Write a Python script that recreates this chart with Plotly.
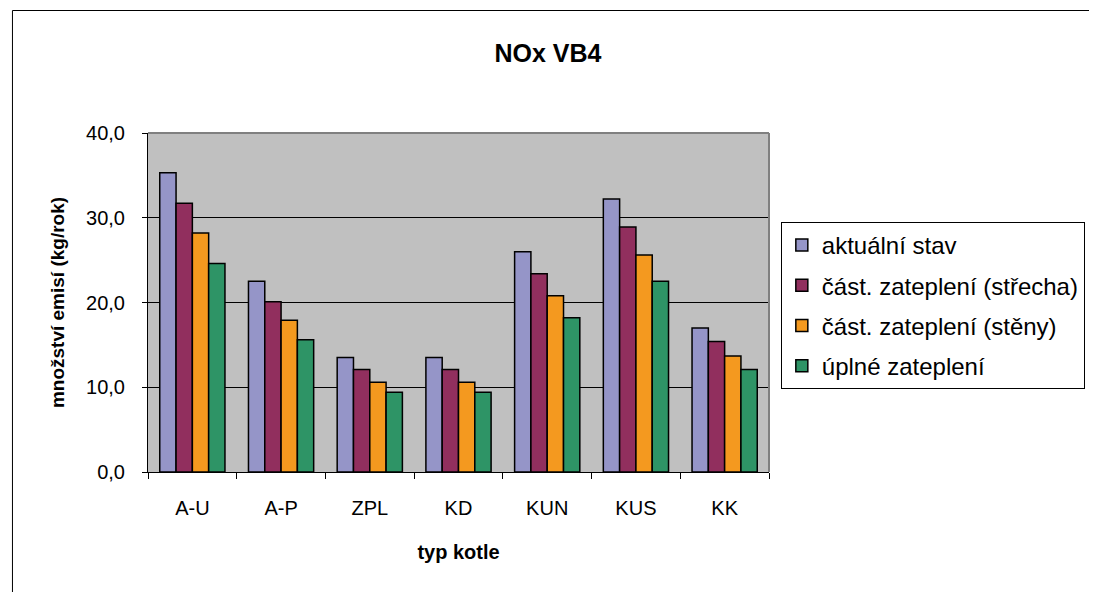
import plotly.graph_objects as go

categories = ["A-U", "A-P", "ZPL", "KD", "KUN", "KUS", "KK"]
series_names = ["aktuální stav", "část. zateplení (střecha)", "část. zateplení (stěny)", "úplné zateplení"]
aktualni = [35.3, 22.5, 13.5, 13.5, 26.0, 32.2, 17.0]
strecha = [31.7, 20.1, 12.1, 12.1, 23.4, 28.9, 15.4]
steny = [28.2, 17.9, 10.6, 10.6, 20.8, 25.6, 13.7]
uplne = [24.6, 15.6, 9.4, 9.4, 18.2, 22.5, 12.1]
y_ticks = [0, 10, 20, 30, 40]
y_tick_labels = ["0,0", "10,0", "20,0", "30,0", "40,0"]
colors = ["#9595C8", "#912F5E", "#F4991F", "#2E9466"]

# page has an 8px body margin; work in figure pixel coordinates
W, H = 1089, 584
L, R, T, B = 140, 770, 125, 464

fig = go.Figure()
for i, (name, vals) in enumerate(zip(series_names, [aktualni, strecha, steny, uplne])):
    fig.add_trace(go.Bar(
        x=categories, y=vals, name=name, legendgroup=str(i),
        marker=dict(color=colors[i], line=dict(color="black", width=1.5)),
    ))

font = "Liberation Sans, Arial, sans-serif"
pw, ph = R - L, B - T

def px2x(px):
    return (px - L) / pw

def px2y(py):
    return (B - py) / ph

fig.update_layout(
    width=W, height=H,
    margin=dict(l=L, r=W - R, t=T, b=H - B, pad=0),
    paper_bgcolor="white", plot_bgcolor="#C0C0C0",
    font=dict(family=font, color="black", size=20),
    barmode="group", bargap=0.265, bargroupgap=0,
    title=dict(text="<b>NOx VB4</b>", x=540 / W, xref="container", xanchor="center",
               y=1 - 45 / H, yref="container", yanchor="middle",
               font=dict(size=25, family=font)),
    legend=dict(x=px2x(782), y=px2y(214), xanchor="left", yanchor="top",
                bordercolor="black", borderwidth=1, bgcolor="white",
                font=dict(size=24, family=font), tracegroupgap=6,
                traceorder="grouped"),
    xaxis=dict(
        showline=True, linecolor="black", linewidth=1,
        ticks="outside", tickson="boundaries", ticklen=6, tickcolor="black",
        ticklabelstandoff=18,
        title=dict(text="<b>typ kotle</b>", font=dict(size=20), standoff=26),
        showgrid=False,
    ),
    yaxis=dict(
        range=[0, 40], tickvals=y_ticks, ticktext=y_tick_labels,
        showline=True, linecolor="black", linewidth=1,
        ticks="outside", ticklen=5, tickcolor="black", ticklabelstandoff=13,
        showgrid=True, gridcolor="black", gridwidth=1,
        title=dict(text="<b>množství emisí (kg/rok)</b>", font=dict(size=19), standoff=16),
        zeroline=False,
    ),
    shapes=[
        dict(type="line", xref="paper", yref="paper", x0=0, x1=1, y0=1, y1=1,
             line=dict(color="#808080", width=2)),
        dict(type="line", xref="paper", yref="paper", x0=1, x1=1, y0=0, y1=1,
             line=dict(color="#808080", width=2)),
        # outer chart frame: left and top edges (right/bottom lie outside the picture)
        dict(type="line", xref="paper", yref="paper",
             x0=px2x(2.5), x1=px2x(2.5), y0=px2y(900), y1=px2y(2.5),
             line=dict(color="black", width=1), layer="below"),
        dict(type="line", xref="paper", yref="paper",
             x0=px2x(2.5), x1=px2x(1400), y0=px2y(2.5), y1=px2y(2.5),
             line=dict(color="black", width=1), layer="below"),
    ],
)

fig.write_html("out.html")
